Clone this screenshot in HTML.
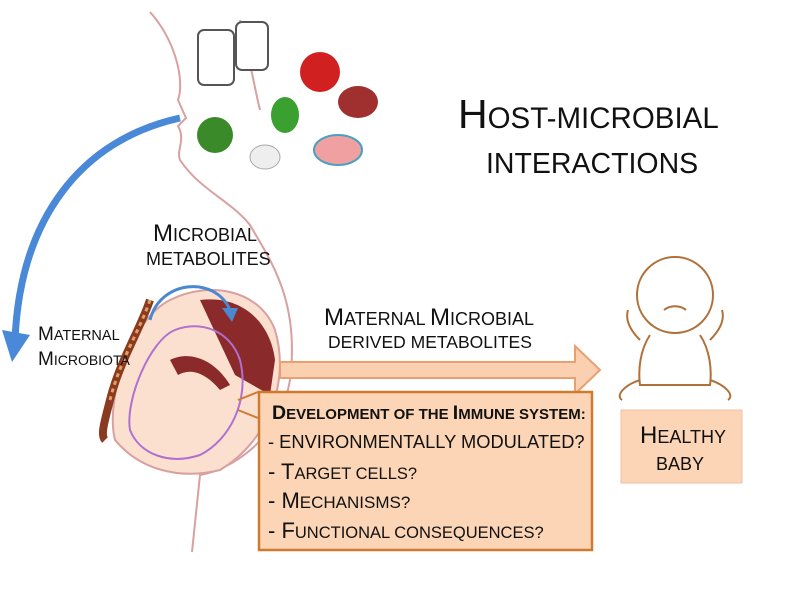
<!DOCTYPE html>
<html><head><style>
body{margin:0;width:800px;height:600px;background:#fff;position:relative;overflow:hidden;font-family:"Liberation Sans",sans-serif;color:#111}
.t{position:absolute;white-space:nowrap;line-height:1}
.s{text-transform:uppercase}
</style></head><body>
<svg width="800" height="600" style="position:absolute;left:0;top:0">
<path d="M150 12 C175 40 185 80 178 100 L186 118 L178 126 C186 140 176 150 180 160 C200 190 230 200 250 225 C270 260 300 300 290 380 C280 440 230 470 200 475 L192 552" fill="none" stroke="#d8a0a0" stroke-width="2"/>
<path d="M240 20 C250 60 255 90 260 110" fill="none" stroke="#d8a0a0" stroke-width="2"/>
<path d="M170 300 C210 280 260 290 275 330 C290 380 270 440 220 470 C180 480 140 470 115 440 C105 400 130 320 170 300Z" fill="#fbe0d0" stroke="#d8a0a0" stroke-width="2"/>
<path d="M200 300 C240 295 270 320 275 360 L270 395 L235 375 Z" fill="#8a2a2a"/>
<path d="M175 330 C200 320 230 330 240 360 C250 400 230 440 200 455 C170 465 140 455 130 430 C125 400 150 340 175 330Z" fill="none" stroke="#b070d0" stroke-width="2"/>
<path d="M170 360 C190 350 215 360 230 385 L220 390 C205 372 190 368 178 375 Z" fill="#8a2a2a"/>
<path d="M150 300 C140 330 120 360 110 400 C105 420 100 435 105 440" fill="none" stroke="#8a3a20" stroke-width="8"/>
<path d="M150 300 C140 330 120 360 110 400" fill="none" stroke="#e0a060" stroke-width="3" stroke-dasharray="4 4"/>
<path d="M150 320 C160 280 215 275 230 310" fill="none" stroke="#4a88d0" stroke-width="3"/>
<polygon points="222,308 238,308 232,322" fill="#4a88d0"/>
<path d="M180 118 C80 140 20 220 15 340" fill="none" stroke="#4a88d8" stroke-width="7"/>
<polygon points="2,330 30,335 12,362" fill="#4a88d8"/>
<rect x="198" y="30" width="36" height="55" rx="6" fill="#fff" stroke="#555" stroke-width="2"/>
<rect x="236" y="22" width="32" height="48" rx="6" fill="#fff" stroke="#555" stroke-width="2"/>
<circle cx="320" cy="72" r="20" fill="#d02020"/>
<ellipse cx="358" cy="102" rx="20" ry="16" fill="#a03030"/>
<circle cx="215" cy="135" r="18" fill="#3a8a2a"/>
<ellipse cx="285" cy="115" rx="14" ry="18" fill="#3aa030"/>
<ellipse cx="265" cy="157" rx="15" ry="12" fill="#eee" stroke="#aaa"/>
<ellipse cx="338" cy="150" rx="24" ry="15" fill="#f0a0a0" stroke="#4aa0c0" stroke-width="2"/>
<polygon points="280,362 575,362 575,346 600,370 575,394 575,378 280,378" fill="#fbd0b0" stroke="#e8a070" stroke-width="2"/>
<path d="M238 400 L258 392 M238 410 L258 418" stroke="#d07a30" stroke-width="2"/>
<rect x="259" y="392" width="333" height="158" fill="#fbd5b5" stroke="#d07a30" stroke-width="2.5"/>
<rect x="621" y="410" width="121" height="73" fill="#fbd5b5" stroke="#f0c0a0"/>
<g fill="none" stroke="#b0703a" stroke-width="2">
<circle cx="675" cy="295" r="38"/>
<path d="M650 335 C640 350 638 370 640 385 L710 385 C712 370 710 350 700 335"/>
<path d="M640 340 C630 330 625 320 628 310 M710 340 C720 330 725 320 722 310"/>
<path d="M640 380 C625 385 615 395 622 400 M710 380 C725 385 735 395 728 400"/>
<path d="M664 310 C670 305 680 305 686 310"/>
</g>
</svg>
<div class="t" style="left:458px;top:94px;font-size:41px">H<span class="s" style="font-size:29.5px">ost-microbial</span></div>
<div class="t s" style="left:486px;top:150px;font-size:28.5px">interactions</div>
<div class="t" style="left:153px;top:222px;font-size:24px">M<span class="s" style="font-size:18px">icrobial</span></div>
<div class="t s" style="left:146px;top:250px;font-size:18px">metabolites</div>
<div class="t" style="left:38px;top:325px;font-size:19px">M<span class="s" style="font-size:14.5px">aternal</span></div>
<div class="t" style="left:38px;top:350px;font-size:19px">M<span class="s" style="font-size:14px">icrobiota</span></div>
<div class="t" style="left:324px;top:306px;font-size:24px">M<span class="s" style="font-size:18px">aternal </span>M<span class="s" style="font-size:18px">icrobial</span></div>
<div class="t s" style="left:328px;top:334px;font-size:17.5px">derived metabolites</div>
<div class="t" style="left:272px;top:404px;font-size:19.5px;font-weight:bold">D<span class="s" style="font-size:15px">evelopment of the </span>I<span class="s" style="font-size:15px">mmune system:</span></div>
<div class="t s" style="left:268px;top:433px;font-size:18.3px">- environmentally modulated?</div>
<div class="t" style="left:268px;top:461px;font-size:22px">- T<span class="s" style="font-size:16.5px">arget cells?</span></div>
<div class="t" style="left:268px;top:490px;font-size:22px">- M<span class="s" style="font-size:17px">echanisms?</span></div>
<div class="t" style="left:268px;top:520px;font-size:22px">- F<span class="s" style="font-size:16.5px">unctional consequences?</span></div>
<div class="t" style="left:640px;top:424px;font-size:24px">H<span class="s" style="font-size:18px">ealthy</span></div>
<div class="t s" style="left:656px;top:455px;font-size:18px">baby</div>
</body></html>
